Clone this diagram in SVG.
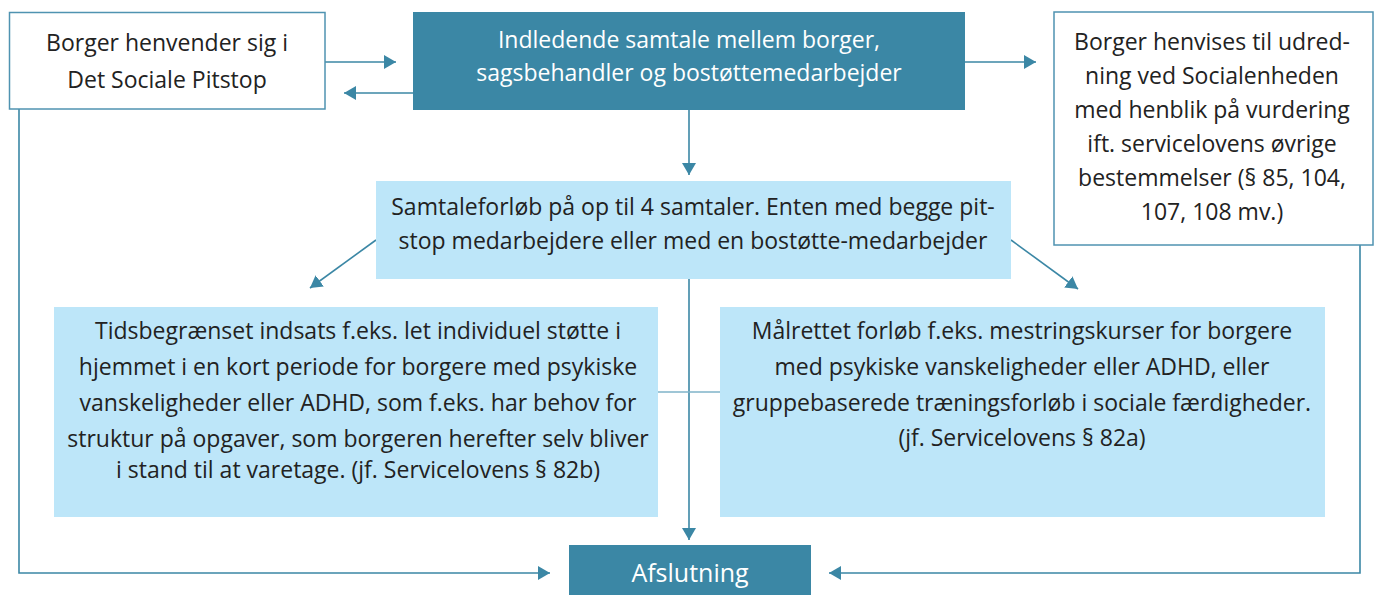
<svg xmlns="http://www.w3.org/2000/svg" width="1375" height="595" viewBox="0 0 1375 595">
<defs>
<style>
.t{font-family:"Open Sans","Noto Sans",sans-serif;font-size:23px;fill:#222;text-anchor:middle}
.w{fill:#fff}
.ob{fill:#fff;stroke:#4f93b1;stroke-width:1.5}
.db{fill:#3b87a5}
.lb{fill:#bde6f9}
.c{fill:none;stroke:#3b87a5;stroke-width:1.6}
</style>
<marker id="ah" markerUnits="userSpaceOnUse" markerWidth="14" markerHeight="16" refX="12" refY="7" orient="auto" viewBox="0 0 14 14">
<path d="M0,0 L12,7 L0,14 Z" fill="#3b87a5"/>
</marker>
</defs>
<rect width="1375" height="595" fill="#fff"/>
<g id="connectors">
<line class="c" x1="325" y1="62" x2="396" y2="62" marker-end="url(#ah)"/>
<line class="c" x1="413" y1="93" x2="344" y2="93" marker-end="url(#ah)"/>
<line class="c" x1="965" y1="62" x2="1036" y2="62" marker-end="url(#ah)"/>
<line class="c" x1="689" y1="110" x2="689" y2="175" marker-end="url(#ah)"/>
<line class="c" x1="376" y1="240" x2="310" y2="288" marker-end="url(#ah)"/>
<line class="c" x1="1011" y1="240" x2="1078" y2="289" marker-end="url(#ah)"/>
<line class="c" x1="689" y1="279" x2="689" y2="540" marker-end="url(#ah)"/>
<line class="c" x1="658" y1="392" x2="720" y2="392" style="stroke:#7fb3c8"/>
<polyline class="c" points="19,109 19,573 550,573" marker-end="url(#ah)"/>
<polyline class="c" points="1360,245 1360,573 829,573" marker-end="url(#ah)"/>
</g>
<g id="borger">
<rect class="ob" x="9.5" y="12.5" width="315.5" height="96.5"/>
<text class="t" x="167" y="51">Borger henvender sig i</text>
<text class="t" x="167" y="88">Det Sociale Pitstop</text>
</g>
<g id="indledende">
<rect class="db" x="413" y="12" width="552" height="98"/>
<text class="t w" x="689" y="48">Indledende samtale mellem borger,</text>
<text class="t w" x="689" y="81">sagsbehandler og bostøttemedarbejder</text>
</g>
<g id="henvises">
<rect class="ob" x="1054" y="12" width="319" height="233"/>
<text class="t" x="1212" y="50">Borger henvises til udred-</text>
<text class="t" x="1212" y="84">ning ved Socialenheden</text>
<text class="t" x="1212" y="118">med henblik på vurdering</text>
<text class="t" x="1212" y="152">ift. servicelovens øvrige</text>
<text class="t" x="1212" y="186">bestemmelser (§ 85, 104,</text>
<text class="t" x="1212" y="220">107, 108 mv.)</text>
</g>
<g id="samtaleforloeb">
<rect class="lb" x="376" y="181" width="635" height="98"/>
<text class="t" x="693" y="215">Samtaleforløb på op til 4 samtaler. Enten med begge pit-</text>
<text class="t" x="693" y="249">stop medarbejdere eller med en bostøtte-medarbejder</text>
</g>
<g id="tidsbegraenset">
<rect class="lb" x="54" y="307" width="604" height="210"/>
<text class="t" x="358" y="339">Tidsbegrænset indsats f.eks. let individuel støtte i</text>
<text class="t" x="358" y="375">hjemmet i en kort periode for borgere med psykiske</text>
<text class="t" x="358" y="411">vanskeligheder eller ADHD, som f.eks. har behov for</text>
<text class="t" x="358" y="447">struktur på opgaver, som borgeren herefter selv bliver</text>
<text class="t" x="358" y="478">i stand til at varetage. (jf. Servicelovens § 82b)</text>
</g>
<g id="maalrettet">
<rect class="lb" x="720" y="307" width="605" height="210"/>
<text class="t" x="1022" y="339">Målrettet forløb f.eks. mestringskurser for borgere</text>
<text class="t" x="1022" y="375">med psykiske vanskeligheder eller ADHD, eller</text>
<text class="t" x="1022" y="411">gruppebaserede træningsforløb i sociale færdigheder.</text>
<text class="t" x="1022" y="446">(jf. Servicelovens § 82a)</text>
</g>
<g id="afslutning">
<rect class="db" x="569" y="545" width="242" height="52"/>
<text class="t w" x="690" y="582" style="font-size:25px">Afslutning</text>
</g>
</svg>
